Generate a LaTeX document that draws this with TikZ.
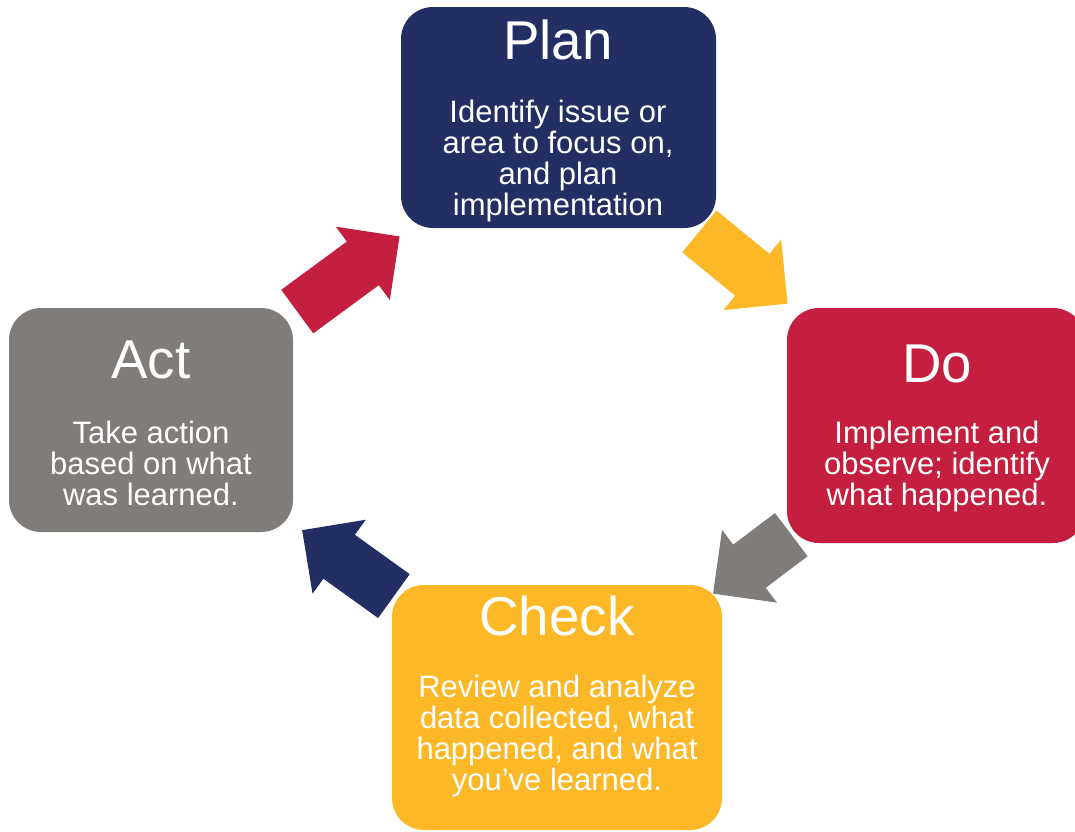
\documentclass[tikz,border=0pt]{standalone}
\usepackage{fontspec}
\setmainfont{Liberation Sans}
\usetikzlibrary{shapes.arrows,calc}

\definecolor{plannavy}{RGB}{35,46,99}
\definecolor{docrimson}{RGB}{196,31,62}
\definecolor{checkgold}{RGB}{252,184,39}
\definecolor{actgray}{RGB}{128,124,122}

\tikzset{every picture/.style={line width=0.75pt}}
\tikzset{
  stepbox/.style={rectangle, rounded corners=24pt, inner sep=0pt, draw=none},
  steptitle/.style={text=white, inner sep=0pt, anchor=base, font=\fontsize{41}{41}\selectfont},
  stepbody/.style={text=white, inner sep=0pt, anchor=north, align=center, font=\fontsize{23.25}{23.25}\selectfont},
  cyclearrow/.style={single arrow, minimum height=#1, minimum width=67.5pt, single arrow head extend=13.9pt, single arrow head indent=0pt, inner xsep=0pt, inner ysep=19.9pt, draw=none}
}

\begin{document}
\begin{tikzpicture}[x=0.75pt,y=0.75pt,yscale=-1,xscale=1]
\clip (0,0) rectangle (1075,832);

%Shape: Rounded boxes
\node[stepbox, fill=plannavy, minimum width=236.25pt, minimum height=165.75pt] (plan) at (558.5,117.5) {};
\node[stepbox, fill=docrimson, minimum width=223.5pt, minimum height=176.25pt] (do) at (936,425.5) {};
\node[stepbox, fill=checkgold, minimum width=247.5pt, minimum height=183.75pt] (check) at (557,707.5) {};
\node[stepbox, fill=actgray, minimum width=213pt, minimum height=168pt] (act) at (151,420) {};

%Block arrows between the boxes
\node[cyclearrow=95.25pt, fill=docrimson, rotate=36.3] (act-plan) at ($(act.north east)!0.5!(plan.south west)+(-9.5,14)$) {};
\node[cyclearrow=85.5pt, fill=checkgold, rotate=-39.3] (plan-do) at ($(plan.south east)!0.5!(do.north west)+(-18.5,-9)$) {};
\node[cyclearrow=73.5pt, fill=actgray, rotate=217] (do-check) at ($(do.south west)!0.5!(check.north east)+(8.5,-8)$) {};
\node[cyclearrow=84.75pt, fill=plannavy, rotate=144.3] (check-act) at ($(check.north west)!0.5!(act.south east)+(16.5,12.5)$) {};

% Text Node
\node[steptitle] (plan-title) at (558,59) {Plan};
\node[stepbody] (plan-body) at (558,99.4) {Identify issue or\\area to focus on,\\and plan\\implementation};
% Text Node
\node[steptitle] (do-title) at (937,382) {Do};
\node[stepbody] (do-body) at (937,420.8) {Implement and\\observe; identify\\what happened.};
% Text Node
\node[steptitle] (check-title) at (557,635) {Check};
\node[stepbody] (check-body) at (557,674.8) {Review and analyze\\data collected, what\\happened, and what\\you’ve learned.};
% Text Node
\node[steptitle] (act-title) at (151,378) {Act};
\node[stepbody] (act-body) at (151,420.8) {Take action\\based on what\\was learned.};

\end{tikzpicture}
\end{document}
